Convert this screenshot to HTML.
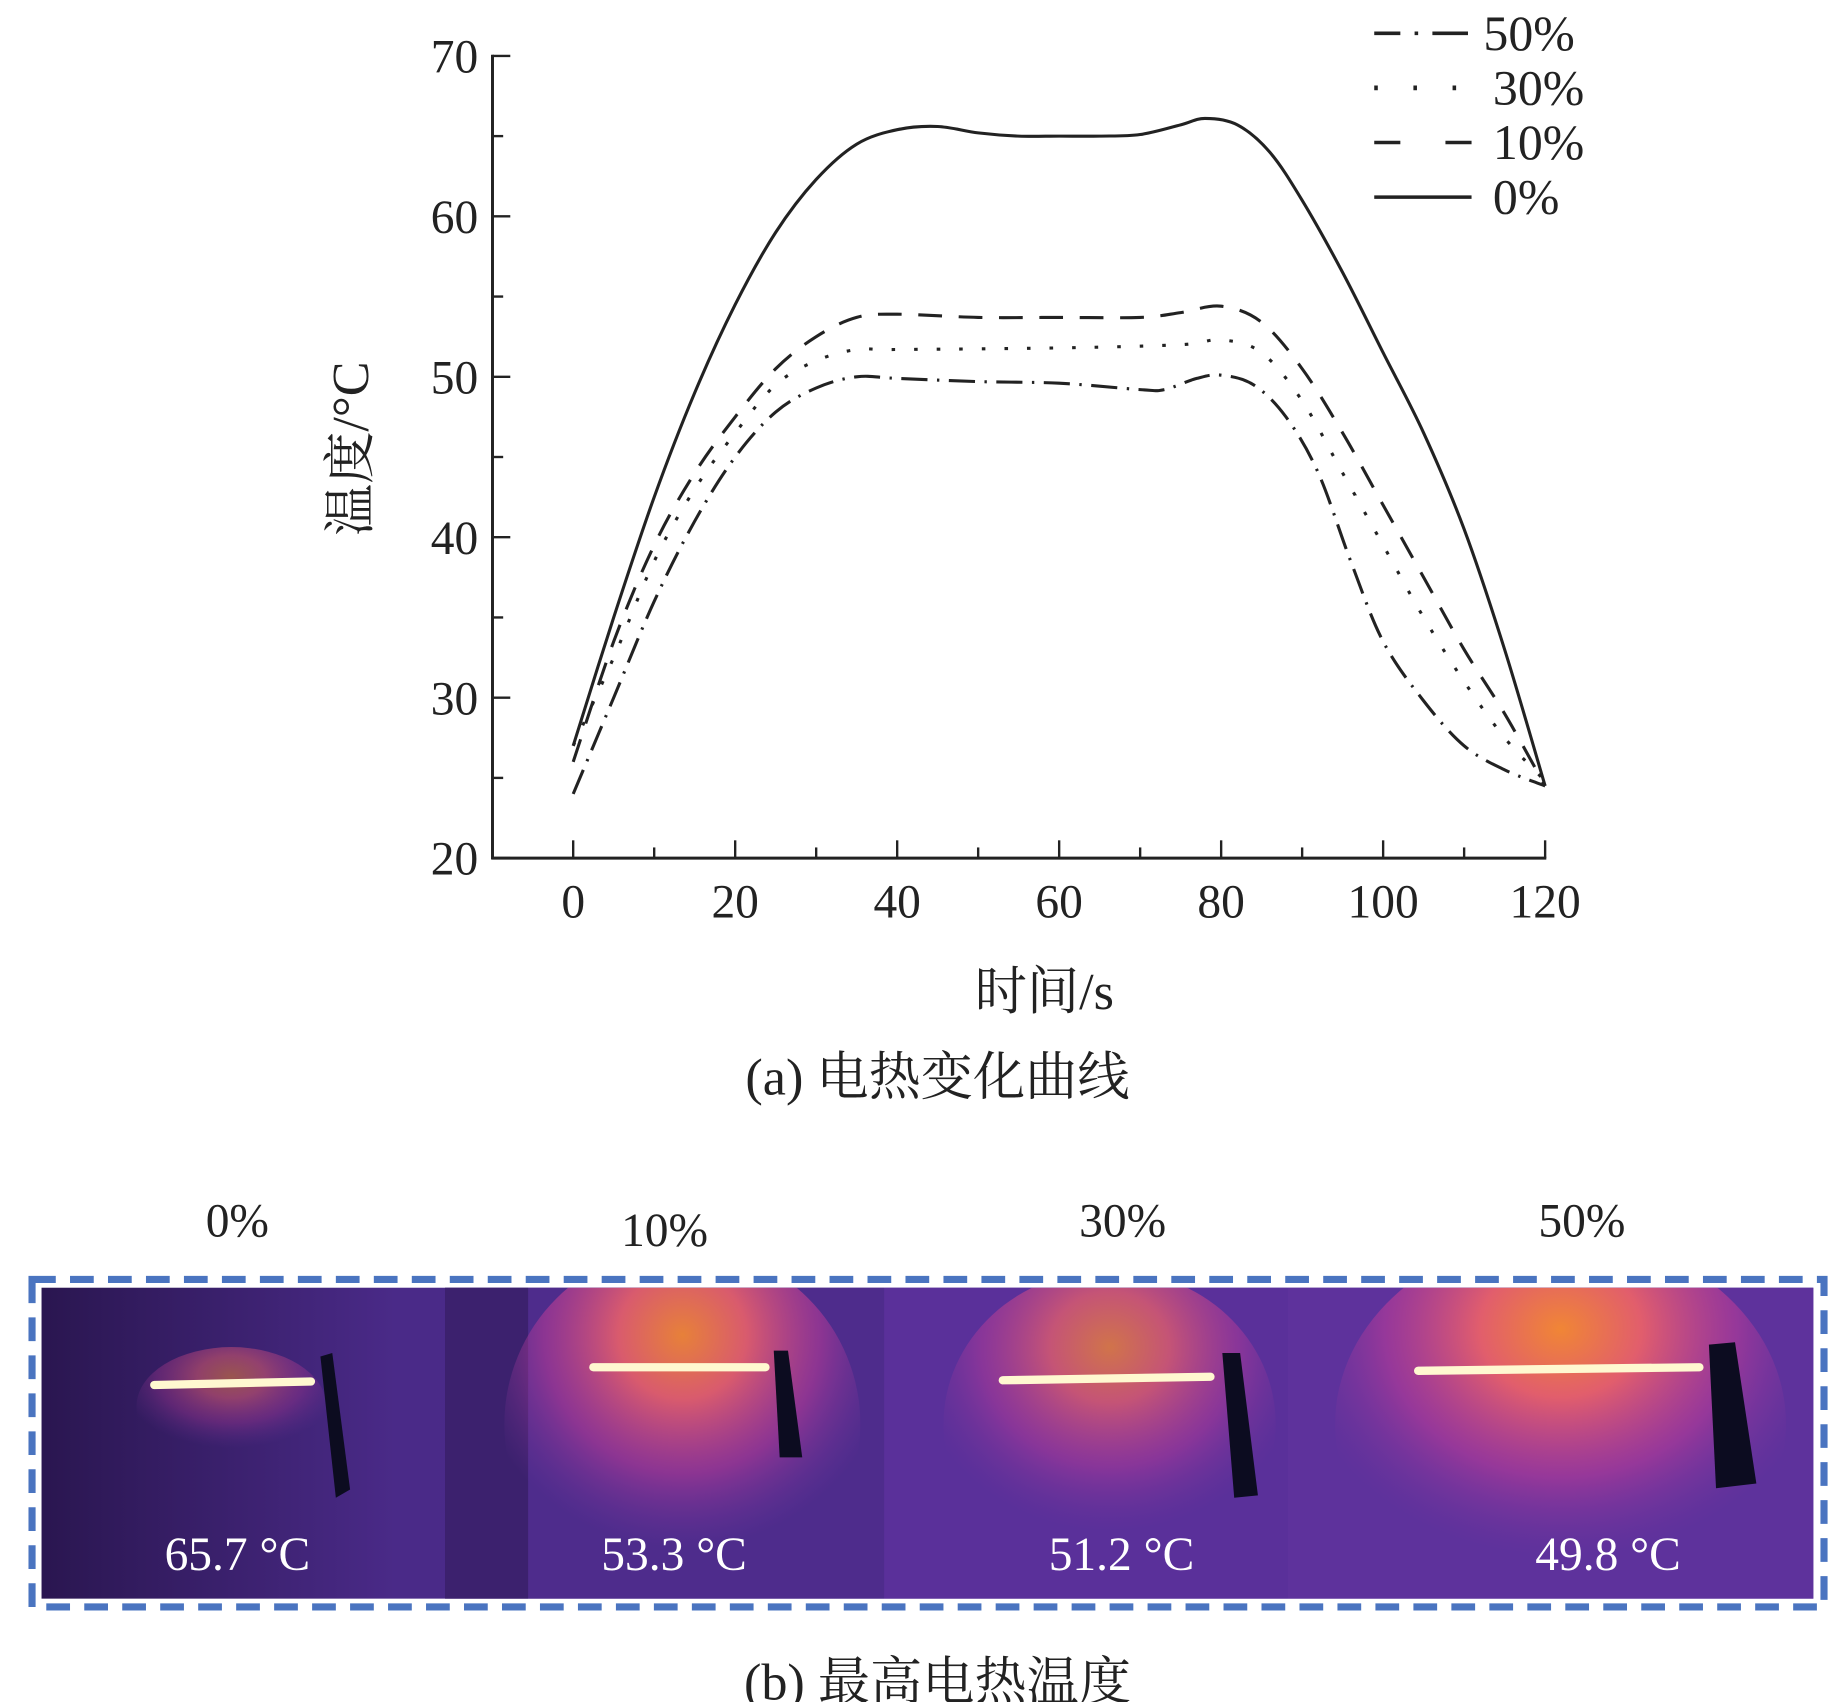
<!DOCTYPE html>
<html><head><meta charset="utf-8">
<style>
html,body{margin:0;padding:0;background:#fff;}
svg{display:block;}
text{font-family:"Liberation Serif","Noto Serif CJK SC",serif;fill:#222;}
text.w{fill:#fff;}
</style></head>
<body>
<svg id="s" width="1843" height="1702" viewBox="0 0 1553 1434" xmlns="http://www.w3.org/2000/svg">
<defs>
<linearGradient id="bg" x1="0" x2="1" y1="0" y2="0">
<stop offset="0" stop-color="#2a1650"/><stop offset="0.2" stop-color="#4a2a88"/><stop offset="1" stop-color="#55309a"/>
</linearGradient>
<radialGradient id="glow" cx="0.5" cy="0.25" r="0.6">
<stop offset="0" stop-color="#f88a30"/><stop offset="0.3" stop-color="#e8606a"/><stop offset="0.65" stop-color="#c03c98" stop-opacity="0.6"/><stop offset="1" stop-color="#7a35a0" stop-opacity="0"/>
</radialGradient>
<clipPath id="cp1"><rect x="35" y="1085" width="340" height="262"/></clipPath>
<clipPath id="cp2"><rect x="375" y="1085" width="370" height="262"/></clipPath>
<clipPath id="cp3"><rect x="745" y="1085" width="340" height="262"/></clipPath>
<clipPath id="cp4"><rect x="1085" y="1085" width="443" height="262"/></clipPath>
</defs>
<g stroke="#222" stroke-width="2.5" fill="none">
<line x1="415" y1="46" x2="415" y2="724"/>
<line x1="414" y1="723" x2="1303" y2="723"/>
</g>
<g id="ticks" stroke="#222" stroke-width="2"></g>
<g font-size="40" text-anchor="end" id="ylab"></g>
<g font-size="40" text-anchor="middle" id="xlab"></g>
<text x="880" y="850" font-size="44" text-anchor="middle">时间/s</text>
<text transform="translate(310,378) rotate(-90)" font-size="44" text-anchor="middle">温度/°C</text>
<text x="790" y="922" font-size="44" text-anchor="middle">(a) 电热变化曲线</text>
<g id="curves" fill="none" stroke="#222" stroke-width="2.6"></g>
<g stroke="#222" stroke-width="3">
<line x1="1158" y1="28" x2="1242" y2="28" stroke-dasharray="22,12,3,12,30"/>
<line x1="1158" y1="74" x2="1240" y2="74" stroke-dasharray="3,30" stroke-width="4"/>
<line x1="1158" y1="120" x2="1240" y2="120" stroke-dasharray="22,38"/>
<line x1="1158" y1="166" x2="1240" y2="166"/>
</g>
<g font-size="42">
<text x="1250" y="42">50%</text>
<text x="1258" y="88">30%</text>
<text x="1258" y="134">10%</text>
<text x="1258" y="180">0%</text>
</g>
<g font-size="40" text-anchor="middle">
<text x="200" y="1042">0%</text><text x="560" y="1050">10%</text><text x="946" y="1042">30%</text><text x="1333" y="1042">50%</text>
</g>
<rect x="35" y="1085" width="1493" height="262" fill="url(#bg)"/>
<rect x="375" y="1085" width="370" height="262" fill="#4e2c8c"/>
<rect x="375" y="1085" width="70" height="262" fill="#2a1650" opacity="0.5"/>
<rect x="745" y="1085" width="340" height="262" fill="#5a309a"/>
<rect x="1085" y="1085" width="443" height="262" fill="#5e329c"/>
<ellipse clip-path="url(#cp1)" cx="195" cy="1185" rx="80" ry="50" fill="url(#glow)" opacity="0.5"/>
<ellipse clip-path="url(#cp2)" cx="575" cy="1200" rx="150" ry="150" fill="url(#glow)" opacity="0.9"/>
<ellipse clip-path="url(#cp3)" cx="935" cy="1200" rx="140" ry="130" fill="url(#glow)" opacity="0.75"/>
<ellipse clip-path="url(#cp4)" cx="1315" cy="1200" rx="190" ry="160" fill="url(#glow)" opacity="0.95"/>
<g stroke="#fff8d0" stroke-width="7" stroke-linecap="round">
<line x1="130" y1="1167" x2="262" y2="1164"/>
<line x1="500" y1="1152" x2="645" y2="1152"/>
<line x1="845" y1="1163" x2="1020" y2="1160"/>
<line x1="1195" y1="1155" x2="1432" y2="1152"/>
</g>
<g fill="#0c0c20">
<polygon points="270,1143 280,1140 295,1255 283,1262"/>
<polygon points="652,1138 664,1138 676,1228 657,1228"/>
<polygon points="1030,1140 1045,1140 1060,1260 1040,1262"/>
<polygon points="1440,1133 1462,1131 1480,1250 1446,1254"/>
</g>
<g font-size="40" text-anchor="middle">
<text class="w" x="200" y="1323">65.7 °C</text><text class="w" x="568" y="1323">53.3 °C</text><text class="w" x="945" y="1323">51.2 °C</text><text class="w" x="1355" y="1323">49.8 °C</text>
</g>
<rect x="27" y="1078" width="1510" height="276" fill="none" stroke="#4a74c0" stroke-width="6" stroke-dasharray="20,12"/>
<text x="790" y="1432" font-size="44" text-anchor="middle">(b) 最高电热温度</text>
</svg>
<script>
var NS="http://www.w3.org/2000/svg";
function X(t){return 483+t*6.825;} function Y(v){return 723-(v-20)*13.52;}
var tk=document.getElementById("ticks"),yl=document.getElementById("ylab"),xl=document.getElementById("xlab");
function el(p,n,a){var e=document.createElementNS(NS,n);for(var k in a)e.setAttribute(k,a[k]);p.appendChild(e);return e;}
for(var v=20;v<=70;v+=5){var y=Y(v);el(tk,"line",{x1:415,x2:(v%10)?424:430,y1:y,y2:y});
 if(v%10==0){var t=el(yl,"text",{x:403,y:y+14});t.textContent=String(v);}}
for(var t=0;t<=120;t+=10){var x=X(t);el(tk,"line",{x1:x,x2:x,y1:723,y2:(t%20)?714:708});
 if(t%20==0){var e=el(xl,"text",{x:x,y:773});e.textContent=String(t);}}
var data=[
 {p:[[0,27],[5,35],[10,42.5],[15,49],[20,54.5],[25,59],[30,62.3],[35,64.5],[40,65.4],[45,65.6],[50,65.2],[55,65],[60,65],[65,65],[70,65.1],[75,65.7],[78,66.1],[82,65.7],[86,64],[90,61],[95,56.5],[100,51.5],[105,46.5],[110,40.5],[115,33],[120,24.5]],d:""},
 {p:[[0,26],[5,33.5],[10,39.5],[15,44],[20,47.5],[25,50.5],[30,52.5],[35,53.7],[40,53.9],[50,53.7],[60,53.7],[70,53.7],[75,54],[80,54.4],[85,53.4],[90,50.5],[95,46.5],[100,42],[105,37.5],[110,33],[115,29],[120,24.5]],d:"20,14"},
 {p:[[0,27],[5,32.5],[10,38.5],[15,43],[20,46.5],[25,49.5],[30,51],[35,51.7],[40,51.7],[60,51.8],[75,52],[80,52.3],[85,51.5],[90,48.5],[95,44],[100,39.5],[105,35],[110,31],[115,27.5],[120,24.8]],d:"3,16"},
 {p:[[0,24],[5,30],[10,36],[15,41],[20,45],[25,47.8],[30,49.3],[35,50],[40,49.9],[50,49.7],[60,49.6],[70,49.2],[73,49.2],[77,49.9],[80,50.1],[84,49.5],[88,47.5],[92,44],[96,38.5],[100,33.5],[105,29.8],[110,27],[115,25.5],[120,24.5]],d:"22,8,2,8"}
];
var cg=document.getElementById("curves");
for(var j=0;j<data.length;j++){
 var p=data[j].p.map(function(q){return [X(q[0]),Y(q[1])];});
 var s="M"+p[0][0]+","+p[0][1];
 for(var i=0;i<p.length-1;i++){
  var p0=i>0?p[i-1]:p[i],p1=p[i],p2=p[i+1],p3=(i+2<p.length)?p[i+2]:p2;
  s+=" C"+(p1[0]+(p2[0]-p0[0])/6)+","+(p1[1]+(p2[1]-p0[1])/6)+" "+(p2[0]-(p3[0]-p1[0])/6)+","+(p2[1]-(p3[1]-p1[1])/6)+" "+p2[0]+","+p2[1];
 }
 var a={d:s};
 if(data[j].d)a["stroke-dasharray"]=data[j].d;
 el(cg,"path",a);
}
</script>
</body></html>
